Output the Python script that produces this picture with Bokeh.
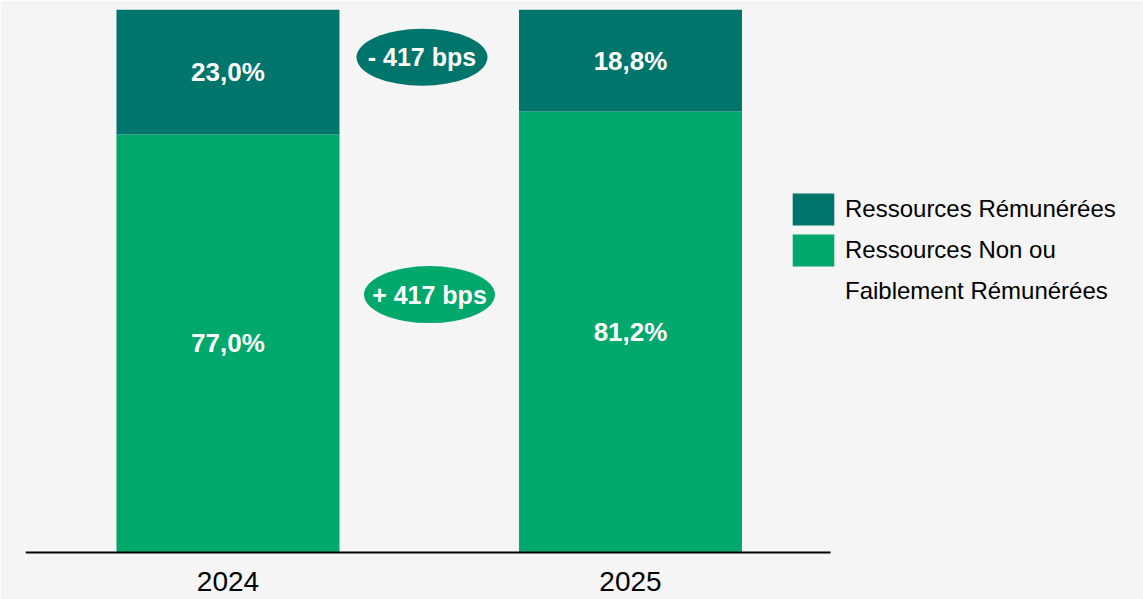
from bokeh.plotting import figure
from bokeh.models import Range1d, FixedTicker, Legend, LegendItem, ColumnDataSource
from bokeh.core.properties import value
from bokeh.embed import file_html
from bokeh.resources import INLINE

# ---- data ----
years = ["2024", "2025"]
non_remunerees = [77.0, 81.2]
remunerees = [23.0, 18.8]
series_names = ["Ressources Rémunérées", "Ressources Non ou", "Faiblement Rémunérées"]
badge_texts = ["- 417 bps", "+ 417 bps"]

TEAL = "#00756B"
GREEN = "#00A86B"
BG = "#F5F5F5"
FONT = value("Liberation Sans")

xs = list(range(len(years)))
src = ColumnDataSource(dict(x=xs, non=non_remunerees, rem=remunerees))

p = figure(width=1143, height=599, output_backend="svg", toolbar_location=None,
           x_range=Range1d(-0.503, 2.2745), y_range=Range1d(-8.656, 100),
           min_border_left=25, min_border_right=0, min_border_top=9, min_border_bottom=0)
p.background_fill_color = BG
p.border_fill_color = BG
p.outline_line_color = None
p.grid.visible = False
p.yaxis.visible = False

bars = p.vbar_stack(["non", "rem"], x="x", width=0.554, color=[GREEN, TEAL],
                    line_color=None, source=src)

# value labels
lab_x = xs + xs
lab_y = [v / 2 for v in non_remunerees] + [n + r / 2 for n, r in zip(non_remunerees, remunerees)]
lab_t = [f"{v:.1f}%".replace(".", ",") for v in non_remunerees + remunerees]
p.text(x=lab_x, y=lab_y, text=lab_t, text_color="white", text_font=FONT,
       text_font_style="bold", text_font_size="26px", text_align="center", text_baseline="middle")

# change badges between the bars
badge_x = [0.482, 0.5006]
badge_y = [91.2, 47.5]
p.ellipse(x=badge_x, y=badge_y, width=131, height=57, width_units="screen", height_units="screen",
          fill_color=[TEAL, GREEN], line_color=None)
p.text(x=badge_x, y=badge_y, text=badge_texts, text_color="white", text_font=FONT,
       text_font_style="bold", text_font_size="25px", text_align="center", text_baseline="middle")

# x axis
ax = p.xaxis[0]
ax.fixed_location = 0
ax.bounds = (-0.503, 1.497)
ax.ticker = FixedTicker(ticks=xs)
ax.major_label_overrides = {i: y for i, y in zip(xs, years)}
ax.axis_line_color = "black"
ax.axis_line_width = 2
ax.major_tick_line_color = None
ax.minor_tick_line_color = None
ax.major_label_standoff = 14
ax.major_label_text_font = "Liberation Sans"
ax.major_label_text_font_size = "28px"
ax.major_label_text_color = "black"

legend = Legend(items=[LegendItem(label=series_names[0], renderers=[bars[1]]),
                       LegendItem(label=series_names[1], renderers=[bars[0]]),
                       LegendItem(label=series_names[2], renderers=[])],
                location=(762, 288), glyph_width=52, glyph_height=40, label_standoff=6,
                label_text_font="Liberation Sans", label_text_font_size="24px",
                label_text_color="black", padding=0, margin=0, spacing=1,
                border_line_color=None, background_fill_alpha=0)
p.add_layout(legend, "center")

open("out.html", "w").write(file_html(p, INLINE))
